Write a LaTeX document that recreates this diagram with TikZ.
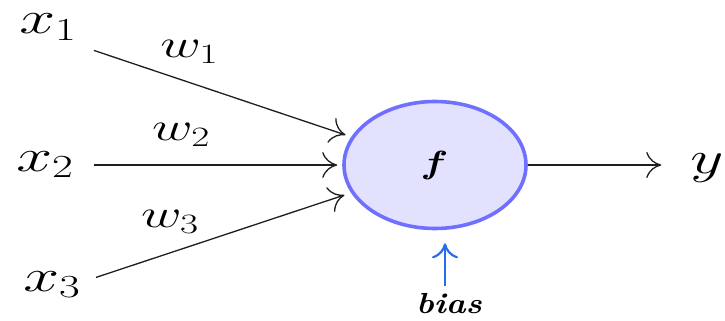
\RequirePackage{fix-cm}
\documentclass[tikz,border=0pt]{standalone}
\usetikzlibrary{arrows.meta,shapes.geometric}
\definecolor{ink}{RGB}{30,30,30}
\definecolor{rim}{RGB}{112,112,255}
\definecolor{core}{RGB}{226,226,255}
\definecolor{sky}{RGB}{40,110,235}
\newcommand{\wide}[2][1.4]{\scalebox{#1}[1]{#2}}
\tikzset{
  tip/.style={-{Computer Modern Rightarrow[length=15pt,width=26pt]}},
  inp/.style={font=\fontsize{46}{50}\selectfont,inner sep=0pt,text height=20pt,text depth=22pt},
  wgt/.style={font=\fontsize{40}{44}\selectfont,inner sep=0pt,anchor=base,yshift=25pt},
  link/.style={tip,line width=1.3pt,draw=ink},
  neuron/.style={ellipse,draw=rim,fill=core,line width=3.6pt,inner sep=0pt,
    minimum width=182pt,minimum height=127pt,font=\fontsize{32}{36}\selectfont},
  biaslink/.style={tip,line width=2.2pt,draw=sky},
}
\begin{document}
\begin{tikzpicture}[x=1pt,y=-1pt]
  \useasboundingbox (0,0) rectangle (725,321);
  \node[inp] (x1) at (48,35) {\wide{$x_1$}};
  \node[inp] (x2) at (45,172) {\wide{$x_2$}};
  \node[inp] (x3) at (52,292) {\wide{$x_3$}};
  \node[neuron] (f) at (435,165) {\wide[1.3]{\textbf{\textit{f}}}};
  \node[inp] (y) at (707,174) {\wide{$y$}};
  \node[font=\fontsize{29}{32}\selectfont,inner sep=2pt] (bias) at (449,304) {\wide[1.15]{\textbf{\textit{bias}}}};
  \draw[link,shorten <=18pt,shorten >=6pt] (x1) -- node[wgt,pos=.41]{\wide{$w_1$}} (f);
  \draw[link,shorten <=20pt,shorten >=5pt] (x2.east |- f) -- node[wgt,pos=.4]{\wide{$w_2$}} (f);
  \draw[link,shorten <=16pt,shorten >=7pt] (x3) -- node[wgt,pos=.33]{\wide{$w_3$}} (f);
  \draw[link,shorten >=29pt] (f) -- (f -| y.west);
  \draw[biaslink,shorten <=6pt,shorten >=13pt] ([xshift=-4pt]bias.north) -- ([xshift=-4pt]bias.north |- f.south);
\end{tikzpicture}
\end{document}
